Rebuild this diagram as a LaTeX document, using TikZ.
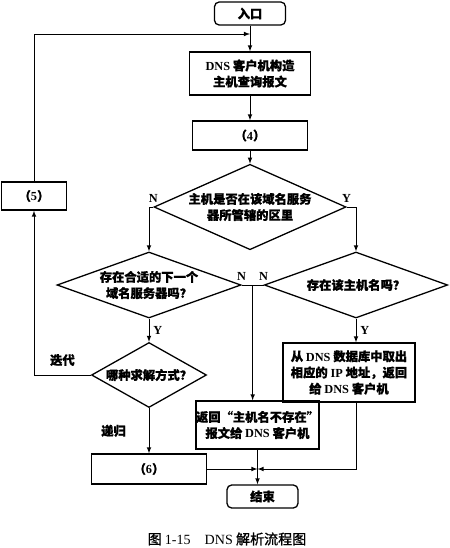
\documentclass[tikz,border=0pt]{standalone}
\usepackage{fontspec}
\setmainfont{Liberation Serif}
\newfontfamily\cjk{Noto Sans CJK SC}[FakeBold=1]
\usetikzlibrary{shapes.geometric}
\usetikzlibrary{calc}
\newcommand{\enw}[1]{{\rmfamily\bfseries #1}}

\begin{document}
\begin{tikzpicture}[x=0.03cm,y=-0.03cm,
    font=\cjk\bfseries\fontsize{10.5}{13.8}\selectfont,
    box/.style={draw,line width=1.1pt,align=center,inner sep=0pt},
    term/.style={box,rounded corners=4pt,minimum width=2.13cm,minimum height=0.69cm},
    decision/.style={draw,line width=1.1pt,diamond,align=center,inner sep=-14pt},
    line/.style={line width=0.8pt},
    arr/.style={line,-latex},
    yn/.style={font=\rmfamily\bfseries\fontsize{10.5}{12}\selectfont}]
    \useasboundingbox (0,0) rectangle (450,548);

    % boxes and decisions
    \node[term] (entry) at (250,13.5) {入口};
    \node[box,minimum width=3.63cm,minimum height=1.29cm] (query) at (250,73.5) {\enw{DNS} 客户机构造\\主机查询报文};
    \node[box,minimum width=3.45cm,minimum height=0.87cm] (step4) at (250,135.5) {（\enw{4}）};
    \node[decision,minimum width=5.76cm,minimum height=1.98cm] (zone) at (250,207) {主机是否在该域名服务\\器所管辖的区里};
    \node[decision,minimum width=5.52cm,minimum height=1.98cm] (next) at (149,285) {存在合适的下一个\\域名服务器吗？};
    \node[decision,minimum width=5.5cm,minimum height=1.98cm] (host) at (356,285) {存在该主机名吗？};
    \node[decision,minimum width=3.45cm,minimum height=1.95cm] (mode) at (149,375) {哪种求解方式？};
    \node[box,minimum width=1.95cm,minimum height=0.84cm] (step5) at (34,196) {（\enw{5}）};
    \node[box,minimum width=3.45cm,minimum height=0.9cm] (step6) at (149,469) {（\enw{6}）};
    \node[box,minimum width=3.96cm,minimum height=1.77cm] (found) at (349,372.5) {从 \enw{DNS} 数据库中取出\\相应的 \enw{IP} 地址，返回\\给 \enw{DNS} 客户机};
    \node[box,minimum width=3.57cm,minimum height=1.44cm] (notfound) at (257.5,425) {返回“主机名不存在”\\报文给 \enw{DNS} 客户机};
    \node[term] (finish) at (262.5,496.5) {结束};
    \node[font=\cjk\mdseries\fontsize{12}{14}\selectfont,inner sep=0pt] (caption) at (227,539) {图 {\rmfamily 1-15\quad DNS} 解析流程图};

    \coordinate (back) at (250,34);
    \coordinate (split) at ($(next.east)!0.5!(host.west)$);
    \coordinate (meet) at (notfound.south |- step6.east);

    % connectors
    \draw[arr] (entry) -- (query);
    \draw[arr] (query) -- (step4);
    \draw[arr] (step4) -- (zone);
    \draw[arr] (zone.west) node[yn,above]{N} -| (next.north);
    \draw[arr] (zone.east) node[yn,above]{Y} -| (host.north);
    \draw[line] (next.east) node[yn,above]{N} -- (host.west) node[yn,above]{N};
    \draw[arr] (split) -- (split |- notfound.north);
    \draw[arr] (next.south) -- node[yn,right]{Y} (mode.north);
    \draw[arr] (host.south) -- node[yn,right]{Y} (host.south |- found.north);
    \draw[arr] (mode.west) -| node[pos=0.25,above=4pt]{迭代} (step5.south);
    \draw[arr] (step5.north) |- (back);
    \draw[arr] (mode.south) -- node[left=16pt]{递归} (step6.north);
    \draw[arr] (notfound.south) -- (notfound.south |- finish.north);
    \draw[arr] (step6.east) -- (meet);
    \draw[arr] (found.south -| host.south) |- (meet);
\end{tikzpicture}
\end{document}
